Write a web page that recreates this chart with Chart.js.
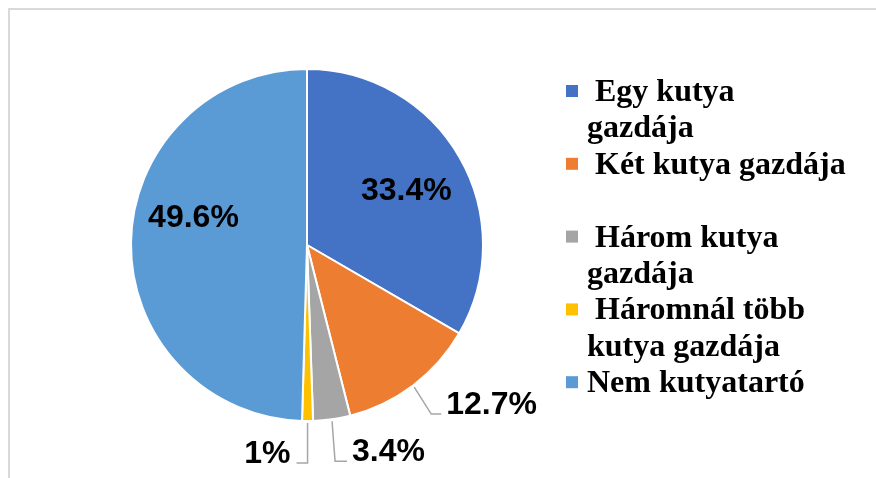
<!DOCTYPE html>
<html lang="hu">
<head>
<meta charset="UTF-8">
<title>Kutyatartás</title>
<script src="https://cdn.jsdelivr.net/npm/chart.js"></script>
<style>
  html, body { margin: 0; padding: 0; background: #fff; }
</style>
</head>
<body>
<canvas id="dogChart" width="876" height="478"></canvas>
<script>
// adatok
const categories = ['Egy kutya gazdája', 'Két kutya gazdája', 'Három kutya gazdája', 'Háromnál több kutya gazdája', 'Nem kutyatartó'];
const shares = [33.4, 12.7, 3.4, 1, 49.6];
const sliceColors = ['#4472C4', '#ED7D31', '#A5A5A5', '#FFC000', '#5B9BD5'];
// legend sorok, ahogy a képen tördelve vannak
const legendLines = [
    [' Egy kutya', 'gazdája'],
    [' Két kutya gazdája', ''],
    [' Három kutya', 'gazdája'],
    [' Háromnál több', 'kutya gazdája'],
    ['Nem kutyatartó']
];

// címke elhelyezés szeletenként
const labelPlacement = [
    { type: 'in', r: 0.645, dx: 1, dy: 3 },
    { type: 'out', dx: 17, dy: 27, hx: 10 },
    { type: 'out', dx: 3, dy: 40, hx: 12 },
    { type: 'out', dx: 0, dy: 40, hx: -11 },
    { type: 'in', r: 0.645, dx: 0, dy: -25 }
];

const framePlugin = {
    id: 'frame',
    beforeDraw(chart) {
        const ctx = chart.ctx;
        ctx.save();
        ctx.strokeStyle = '#d9d9d9';
        ctx.lineWidth = 2;
        ctx.beginPath();
        ctx.moveTo(9, 478);
        ctx.lineTo(9, 9);
        ctx.lineTo(876, 9);
        ctx.stroke();
        ctx.restore();
    }
};

const pieLabels = {
    id: 'pieLabels',
    afterDatasetsDraw(chart) {
        const ctx = chart.ctx;
        const arcs = chart.getDatasetMeta(0).data;
        ctx.save();
        ctx.font = 'bold 32px "Liberation Sans", Arial, sans-serif';
        ctx.fillStyle = '#000';
        arcs.forEach((arc, i) => {
            const p = arc.getProps(['x', 'y', 'startAngle', 'endAngle', 'outerRadius'], true);
            const mid = (p.startAngle + p.endAngle) / 2;
            const txt = shares[i] + '%';
            const pl = labelPlacement[i];
            if (pl.type === 'in') {
                const r = p.outerRadius * pl.r;
                ctx.textAlign = 'center';
                ctx.textBaseline = 'middle';
                ctx.fillText(txt, p.x + Math.cos(mid) * r + pl.dx, p.y + Math.sin(mid) * r + pl.dy);
            } else {
                const ex = p.x + Math.cos(mid) * (p.outerRadius + 2);
                const ey = p.y + Math.sin(mid) * (p.outerRadius + 2);
                const bx = ex + pl.dx, by = ey + pl.dy;
                const hx = bx + pl.hx;
                ctx.strokeStyle = '#A6A6A6';
                ctx.lineWidth = 1.5;
                ctx.beginPath();
                ctx.moveTo(ex, ey);
                ctx.lineTo(bx, by);
                ctx.lineTo(hx, by);
                ctx.stroke();
                ctx.textBaseline = 'alphabetic';
                if (pl.hx >= 0) {
                    ctx.textAlign = 'left';
                    ctx.fillText(txt, hx + 5, by);
                } else {
                    ctx.textAlign = 'right';
                    ctx.fillText(txt, hx - 6, by);
                }
            }
        });
        ctx.restore();
    }
};

const sideLegend = {
    id: 'sideLegend',
    afterDraw(chart) {
        const ctx = chart.ctx;
        ctx.save();
        ctx.font = 'bold 32px "Liberation Serif", "Times New Roman", serif';
        ctx.fillStyle = '#000';
        ctx.textAlign = 'left';
        ctx.textBaseline = 'alphabetic';
        const x0 = 566, textX = 587, top = 101, step = 36.4;
        let row = 0;
        legendLines.forEach((lines, i) => {
            const base = top + row * step;
            ctx.fillStyle = sliceColors[i];
            ctx.fillRect(x0, base - 16, 12, 12);
            ctx.fillStyle = '#000';
            lines.forEach((line, k) => {
                ctx.fillText(line, textX, top + (row + k) * step);
            });
            row += lines.length;
        });
        ctx.restore();
    }
};

new Chart(document.getElementById('dogChart'), {
    type: 'pie',
    data: {
        labels: categories,
        datasets: [{
            data: shares,
            backgroundColor: sliceColors,
            borderColor: '#ffffff',
            borderWidth: 2
        }]
    },
    options: {
        responsive: false,
        animation: false,
        layout: { padding: { left: 130, right: 392, top: 68, bottom: 56 } },
        plugins: {
            legend: { display: false },
            tooltip: { enabled: false }
        }
    },
    plugins: [framePlugin, pieLabels, sideLegend]
});
</script>
</body>
</html>
